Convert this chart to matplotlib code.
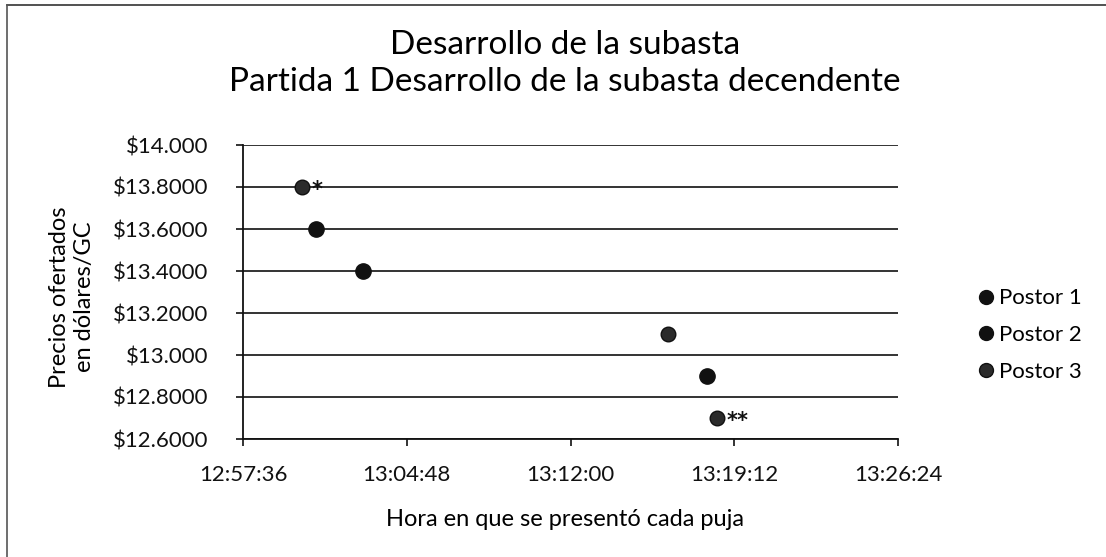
import matplotlib
matplotlib.use("Agg")
import matplotlib.pyplot as plt
from matplotlib.lines import Line2D
from datetime import datetime

plt.rcParams['font.family'] = ['Lato', 'DejaVu Sans']

def t(s):
    return datetime.strptime("2000-01-01 " + s, "%Y-%m-%d %H:%M:%S")

series_names = ["Postor 1", "Postor 2", "Postor 3"]
postor1_times = ["13:00:49", "13:18:00"]
postor1_prices = [13.6, 12.9]
postor2_times = ["13:02:53"]
postor2_prices = [13.4]
postor3_times = ["13:00:12", "13:16:17", "13:18:26"]
postor3_prices = [13.8, 13.1, 12.7]
postor3_notes = ["*", "", "**"]

y_ticks = [12.6, 12.8, 13.0, 13.2, 13.4, 13.6, 13.8, 14.0]
y_tick_labels = ["$12.6000", "$12.8000", "$13.000", "$13.2000", "$13.4000",
                 "$13.6000", "$13.8000", "$14.000"]
x_tick_labels = ["12:57:36", "13:04:48", "13:12:00", "13:19:12", "13:26:24"]

W, H = 1106, 557
fig = plt.figure(figsize=(W / 100, H / 100), dpi=100)
ax_l, ax_r, ax_t, ax_b = 243, 898, 145, 439
ax = fig.add_axes([ax_l / W, 1 - ax_b / H, (ax_r - ax_l) / W, (ax_b - ax_t) / H])

ax.plot([t(s) for s in postor1_times], postor1_prices, 'o', color='#111111',
        ms=11, linestyle='none', zorder=3)
ax.plot([t(s) for s in postor2_times], postor2_prices, 'o', color='#111111',
        ms=11, linestyle='none', zorder=3)
ax.plot([t(s) for s in postor3_times], postor3_prices, 'o', color='#2b2b2b',
        markeredgecolor='#111111', ms=10.5, linestyle='none', zorder=3)
for s, p, n in zip(postor3_times, postor3_prices, postor3_notes):
    if n:
        ax.annotate(n, (t(s), p), xytext=(7, -2), textcoords='offset points',
                    ha='left', va='center', fontsize=15, color='#111111',
                    family='DejaVu Sans', fontweight='bold')

xt = [t(s) for s in x_tick_labels]
ax.set_xlim(xt[0], xt[-1])
ax.set_xticks(xt)
ax.set_xticklabels(x_tick_labels)
ax.set_ylim(12.6, 14.0)
ax.set_yticks(y_ticks)
ax.set_yticklabels(y_tick_labels)
ax.tick_params(axis='both', labelsize=16, colors='#111111', length=5, width=1.2,
               direction='out')
ax.tick_params(axis='x', pad=14)
ax.tick_params(axis='y', pad=20)
ax.grid(axis='y', color='#111111', linewidth=1.2)
ax.set_axisbelow(True)
for side in ['top', 'right']:
    ax.spines[side].set_visible(False)
for side in ['left', 'bottom']:
    ax.spines[side].set_color('#111111')
    ax.spines[side].set_linewidth(1.3)

ax.set_xlabel("Hora en que se presentó cada puja", fontsize=17)
ax.xaxis.set_label_coords((565 - ax_l) / (ax_r - ax_l), -(520 - ax_b) / (ax_b - ax_t))
ax.xaxis.label.set_va('center')
ax.set_ylabel("Precios ofertados\nen dólares/GC", fontsize=17, linespacing=1.2)
ax.yaxis.set_label_coords(-(ax_l - 72) / (ax_r - ax_l), (ax_b - 297) / (ax_b - ax_t))
ax.yaxis.label.set_va('center')

fig.text(565 / W, 1 - 45 / H, "Desarrollo de la subasta", ha='center', va='center',
         fontsize=24)
fig.text(565 / W, 1 - 82 / H, "Partida 1 Desarrollo de la subasta decendente",
         ha='center', va='center', fontsize=24)

handles = [
    Line2D([], [], marker='o', color='#111111', linestyle='none', ms=10),
    Line2D([], [], marker='o', color='#111111', linestyle='none', ms=10),
    Line2D([], [], marker='o', color='#2b2b2b', markeredgecolor='#111111',
           linestyle='none', ms=10),
]
fig.legend(handles, series_names, loc='center left',
           bbox_to_anchor=(975 / W, 1 - 335 / H),
           frameon=False, fontsize=16, handletextpad=0.1, labelspacing=0.75,
           handlelength=1.0, borderaxespad=0, borderpad=0)

# outer chart frame (top and left edges)
fig.add_artist(Line2D([7 / W, 1.0], [1 - 5 / H, 1 - 5 / H], color='#333333', lw=1.2,
                      transform=fig.transFigure))
fig.add_artist(Line2D([7 / W, 7 / W], [0.0, 1 - 5 / H], color='#555555', lw=1.2,
                      transform=fig.transFigure))

fig.savefig("out.png", dpi=100)
